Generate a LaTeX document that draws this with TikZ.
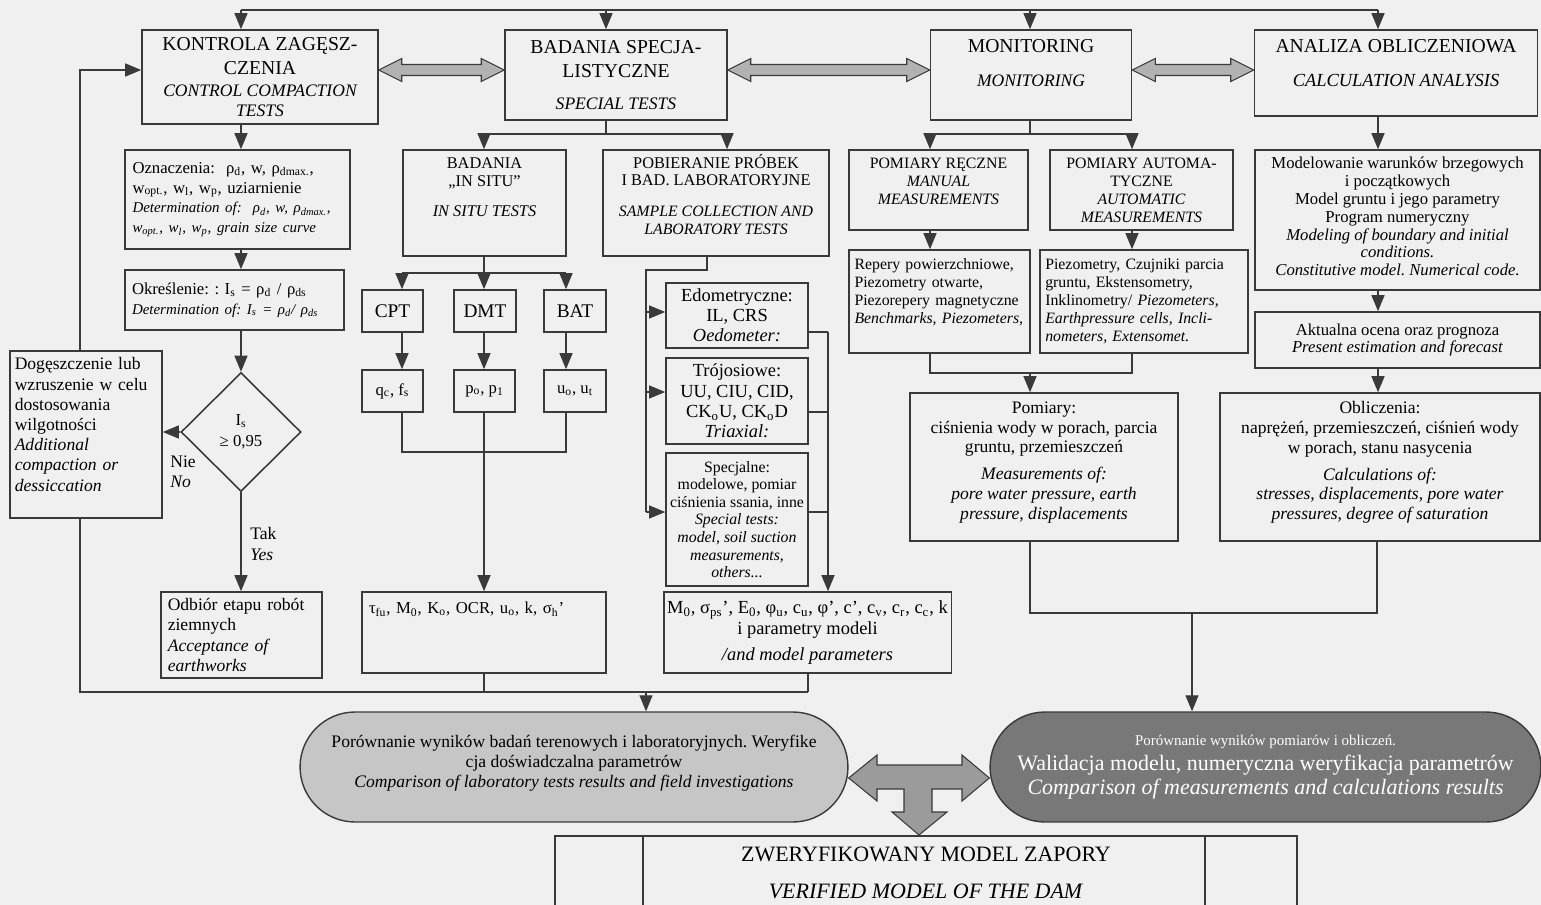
\documentclass[tikz,border=0pt]{standalone}
\usepackage{fontspec}
\setmainfont{Liberation Serif}
\usetikzlibrary{shapes.geometric,arrows.meta,calc}

\definecolor{bgc}{RGB}{240,240,240}
\definecolor{lc}{RGB}{58,58,58}
\definecolor{fatc}{RGB}{178,178,178}
\definecolor{fatd}{RGB}{155,155,155}
\definecolor{ovl}{RGB}{198,198,198}
\definecolor{ovd}{RGB}{120,120,120}

\newcommand{\sbs}[1]{\textsubscript{#1}}
\newcommand{\fsz}[2]{\fontsize{#1}{#2}\selectfont}
\frenchspacing

\begin{document}
\begin{tikzpicture}[x=0.02cm, y=-0.02cm,
    box/.style={rectangle, draw=lc, line width=0.9pt, inner sep=2pt, align=center},
    lbox/.style={box, align=left},
    dia/.style={diamond, draw=lc, line width=0.9pt, aspect=1, inner sep=0pt, align=center},
    oval/.style={rectangle, draw=lc, line width=0.8pt, rounded corners=1.1cm, align=center},
    lbl/.style={align=left, inner sep=0pt, anchor=west},
    ln/.style={draw=lc, line width=0.7pt},
    arr/.style={draw=lc, line width=0.7pt, -{Triangle[length=0.32cm,width=0.26cm]}},
    fat/.style={draw=lc, fill=fatc, line width=0.6pt,
      to path={let \p1=(\tikztostart), \p2=(\tikztotarget) in
        (\p1) -- (\x1+0.46cm,\y1+0.23cm) -- (\x1+0.46cm,\y1+0.11cm) -- (\x2-0.46cm,\y1+0.11cm)
        -- (\x2-0.46cm,\y1+0.23cm) -- (\x2,\y1) -- (\x2-0.46cm,\y1-0.23cm) -- (\x2-0.46cm,\y1-0.11cm)
        -- (\x1+0.46cm,\y1-0.11cm) -- (\x1+0.46cm,\y1-0.23cm) -- cycle}}]
    \useasboundingbox (0,0) rectangle (1541,905);
    \clip (0,0) rectangle (1541,905);
    \fill[bgc] (0,0) rectangle (1541,905);

    % top row
    \node[box, font=\fsz{11.2}{13.6}, minimum width=4.72cm, minimum height=1.88cm] (K) at (260,77) {KONTROLA ZAGĘSZ-\\CZENIA\\[-1pt]{\fsz{10}{11.9}\itshape CONTROL COMPACTION}\\[-2.5pt]{\fsz{10}{11.9}\itshape TESTS}};
    \node[box, font=\fsz{11.2}{13.6}, minimum width=4.44cm, minimum height=1.8cm] (B) at (616,75) {BADANIA SPECJA-\\LISTYCZNE\\[5pt]{\fsz{10}{12}\itshape SPECIAL TESTS}};
    \node[box, font=\fsz{11.2}{13.6}, minimum width=4.02cm, minimum height=1.8cm] (M) at (1031,75) {MONITORING\\[6pt]{\fsz{10}{12}\itshape MONITORING}\\[0pt]\mbox{}};
    \node[box, font=\fsz{11.2}{13.6}, minimum width=5.66cm, minimum height=1.72cm] (A) at (1396,73) {ANALIZA OBLICZENIOWA\\[6pt]{\fsz{10.5}{12}\itshape CALCULATION ANALYSIS}\\[-2pt]\mbox{}};

    % left column
    \node[lbox, font=\fsz{9.5}{11.3}, text width=4.2cm, minimum width=4.5cm, minimum height=1.98cm] (OZ) at (237.5,199.5) {Oznaczenia:~ ρ\sbs{d}, w, ρ\sbs{dmax.},\\w\sbs{opt.}, w\sbs{l}, w\sbs{p}, uziarnienie\\{\fsz{8.5}{10.4}\itshape Determination of:~ ρ\sbs{d}, w, ρ\sbs{dmax.},}\\{\fsz{8.5}{10.4}\itshape w\sbs{opt.}, w\sbs{l}, w\sbs{p}, grain size curve}};
    \node[lbox, font=\fsz{9.5}{11.3}, text width=4.1cm, minimum width=4.38cm, minimum height=1.2cm] (OKR) at (234.5,300) {Określenie: : I\sbs{s} = ρ\sbs{d} / ρ\sbs{ds}\\{\fsz{8.5}{11}\itshape Determination of: I\sbs{s} = ρ\sbs{d}/ ρ\sbs{ds}}};
    \node[dia, font=\fsz{9.5}{12}, minimum width=2.4cm, minimum height=2.38cm] (D) at (241,432) {I\sbs{s}\\≥ 0,95};
    \node[lbox, font=\fsz{10}{11.5}, text width=2.85cm, minimum width=3.04cm, minimum height=3.34cm] (DG) at (86,434.5) {Dogęszczenie lub\\wzruszenie w celu\\dostosowania\\wilgotności\\\textit{Additional}\\\textit{compaction or}\\\textit{dessiccation}\\\mbox{}};
    \node[lbl, font=\fsz{10}{11.5}] (NIE) at (170,472) {Nie\\\textit{No}};
    \node[lbl, font=\fsz{10}{11.5}] (TAK) at (250,544) {Tak\\\textit{Yes}};
    \node[lbox, font=\fsz{10}{11.6}, text width=2.95cm, minimum width=3.22cm, minimum height=1.72cm] (OD) at (241.5,635) {Odbiór etapu robót\\ziemnych\\\textit{Acceptance of}\\\textit{earthworks}};

    % in situ and laboratory
    \node[box, font=\fsz{9.3}{10.2}, minimum width=3.26cm, minimum height=2.12cm] (IS) at (484.5,203) {BADANIA\\„IN SITU”\\[7pt]\textit{IN SITU TESTS}\\[8pt]\mbox{}};
    \node[box, font=\fsz{9.3}{10.2}, minimum width=4.52cm, minimum height=2.12cm] (PB) at (716,203) {POBIERANIE PRÓBEK\\I BAD. LABORATORYJNE\\[7pt]{\fsz{9}{10.2}\itshape SAMPLE COLLECTION AND}\\{\fsz{9}{10.2}\itshape LABORATORY TESTS}\\\mbox{}};
    \node[box, font=\fsz{11}{13}, minimum width=1.22cm, minimum height=0.84cm] (CPT) at (392.5,311) {CPT};
    \node[box, font=\fsz{11}{13}, minimum width=1.24cm, minimum height=0.84cm] (DMT) at (485,311) {DMT};
    \node[box, font=\fsz{11}{13}, minimum width=1.24cm, minimum height=0.84cm] (BAT) at (575,311) {BAT};
    \node[box, font=\fsz{9.5}{11}, minimum width=1.22cm, minimum height=0.84cm] (QC) at (392.5,391) {q\sbs{c}, f\sbs{s}};
    \node[box, font=\fsz{9.5}{11}, minimum width=1.22cm, minimum height=0.84cm] (PO) at (484.5,391) {p\sbs{o}, p\sbs{1}};
    \node[box, font=\fsz{9.5}{11}, minimum width=1.24cm, minimum height=0.84cm] (UO) at (575,391) {u\sbs{o}, u\sbs{t}};
    \node[lbox, font=\fsz{9.5}{11}, text width=4.6cm, minimum width=4.88cm, minimum height=1.62cm] (TB) at (484,632.5) {τ\sbs{fu}, M\sbs{0}, K\sbs{o}, OCR, u\sbs{o}, k, σ\sbs{h}’\\[17pt]\mbox{}};
    \node[box, font=\fsz{10.5}{11.4}, minimum width=2.84cm, minimum height=1.3cm] (ED) at (737,315.5) {Edometryczne:\\IL, CRS\\\textit{Oedometer:}};
    \node[box, font=\fsz{10.5}{11.5}, minimum width=2.84cm, minimum height=1.72cm] (TR) at (737,401) {Trójosiowe:\\UU, CIU, CID,\\CK\sbs{o}U, CK\sbs{o}D\\\textit{Triaxial:}};
    \node[box, font=\fsz{9}{10}, minimum width=2.84cm, minimum height=2.66cm] (SP) at (737,519.5) {Specjalne:\\modelowe, pomiar\\ciśnienia ssania, inne\\\textit{Special tests:}\\\textit{model, soil suction}\\\textit{measurements,}\\\textit{others...}};
    \node[box, font=\fsz{10.5}{11.9}, minimum width=5.66cm, minimum height=1.62cm] (MB) at (807.5,632.5) {M\sbs{0}, σ\sbs{ps}’, E\sbs{0}, φ\sbs{u}, c\sbs{u}, φ’, c’, c\sbs{v}, c\sbs{r}, c\sbs{c}, k\\i parametry modeli\\[3pt]\textit{/and model parameters}};

    % monitoring
    \node[box, font=\fsz{9}{10.2}, minimum width=3.58cm, minimum height=1.6cm] (PR) at (938.5,190) {POMIARY RĘCZNE\\\textit{MANUAL}\\\textit{MEASUREMENTS}\\\mbox{}};
    \node[box, font=\fsz{9}{10.2}, minimum width=3.66cm, minimum height=1.6cm] (PA) at (1141.5,190) {POMIARY AUTOMA-\\TYCZNE\\\textit{AUTOMATIC}\\\textit{MEASUREMENTS}};
    \node[lbox, font=\fsz{9}{10.2}, text width=3.4cm, minimum width=3.62cm, minimum height=2.06cm] (RP) at (939.5,301.5) {Repery powierzchniowe,\\Piezometry otwarte,\\Piezorepery magnetyczne\\\textit{Benchmarks, Piezometers,}\\[2pt]\mbox{}};
    \node[lbox, font=\fsz{9}{10.2}, text width=3.95cm, minimum width=4.16cm, minimum height=2.06cm] (PZ) at (1144,301.5) {Piezometry, Czujniki parcia\\gruntu, Ekstensometry,\\Inklinometry/ \textit{Piezometers,}\\\textit{Earthpressure cells, Incli-}\\\textit{nometers, Extensomet.}};
    \node[box, font=\fsz{10}{11.3}, minimum width=5.36cm, minimum height=2.96cm] (PM) at (1044,467) {Pomiary:\\ciśnienia wody w porach, parcia\\gruntu, przemieszczeń\\[4pt]\textit{Measurements of:}\\\textit{pore water pressure, earth}\\\textit{pressure, displacements}\\[-4pt]\mbox{}};

    % calculation analysis
    \node[box, font=\fsz{9.5}{10.2}, minimum width=5.7cm, minimum height=2.8cm] (MD) at (1397.5,220) {Modelowanie warunków brzegowych\\i początkowych\\Model gruntu i jego parametry\\Program numeryczny\\\textit{Modeling of boundary and initial}\\\textit{conditions.}\\\textit{Constitutive model. Numerical code.}\\[-6pt]\mbox{}};
    \node[box, font=\fsz{9.5}{10.2}, minimum width=5.7cm, minimum height=1.12cm] (AK) at (1397.5,340) {Aktualna ocena oraz prognoza\\\textit{Present estimation and forecast}};
    \node[box, font=\fsz{10}{11.3}, minimum width=6.4cm, minimum height=2.96cm] (OB) at (1380,467) {Obliczenia:\\naprężeń, przemieszczeń, ciśnień wody\\w porach, stanu nasycenia\\[4pt]\textit{Calculations of:}\\\textit{stresses, displacements, pore water}\\\textit{pressures, degree of saturation}\\[-4pt]\mbox{}};

    % bottom
    \node[oval, fill=ovl, font=\fsz{10}{11.4}, minimum width=10.96cm, minimum height=2.2cm] (LE) at (574,767) {Porównanie wyników badań terenowych i laboratoryjnych. Weryfike\\cja doświadczalna parametrów\\\textit{Comparison of laboratory tests results and field investigations}\\[-5pt]\mbox{}};
    \node[oval, fill=ovd, text=white, font=\fsz{12.5}{13.6}, minimum width=11.02cm, minimum height=2.2cm] (RE) at (1265.5,767) {{\fsz{8.5}{10}Porównanie wyników pomiarów i obliczeń.}\\[1pt]Walidacja modelu, numeryczna weryfikacja parametrów\\\textit{Comparison of measurements and calculations results}};
    \node[box, font=\fsz{12.5}{14}, anchor=north, minimum width=14.84cm, minimum height=1.5cm] (BM) at (926,835) {ZWERYFIKOWANY MODEL ZAPORY\\[7pt]\textit{VERIFIED MODEL OF THE DAM}};
    \draw[ln] (BM.north -| 643,0) -- (BM.south -| 643,0);
    \draw[ln] (BM.north -| 1205,0) -- (BM.south -| 1205,0);

    % top bus
    \draw[ln] (241,10) -- (1378,10);
    \draw[arr] (241,10) -- (241,10 |- K.north);
    \draw[arr] (606,10) -- (606,10 |- B.north);
    \draw[arr] (1030,10) -- (1030,10 |- M.north);
    \draw[arr] (1378,10) -- (1378,10 |- A.north);
    \draw[fat] (K.east |- 0,70) to (B.west |- 0,70);
    \draw[fat] (B.east |- 0,70) to (M.west |- 0,70);
    \draw[fat] (M.east |- 0,70) to (A.west |- 0,70);

    % compaction control
    \draw[arr] (K.south -| 241,0) -- (OZ.north -| 241,0);
    \draw[arr] (OZ.south -| 241,0) -- (OKR.north -| 241,0);
    \draw[arr] (OKR.south -| 241,0) -- (D.north);
    \draw[arr] (D.west) -- (DG.east |- D.west);
    \draw[arr] (D.south) -- (OD.north -| D.south);
    \draw[arr] (DG.north -| 80,0) |- (K.west |- 0,70);
    \draw[ln] (DG.south -| 80,0) -- (80,692) -- (808,692);
    \draw[ln] (TB.south) -- (TB.south |- 0,692);
    \draw[ln] (MB.south -| 808,0) -- (808,692);
    \draw[arr] (646,692) -- (LE.north -| 646,0);

    % special tests
    \draw[ln] (B.south -| 606,0) -- (606,134);
    \draw[ln] (484,134) -- (727,134);
    \draw[arr] (484,134) -- (IS.north -| 484,0);
    \draw[arr] (727,134) -- (PB.north -| 727,0);
    \draw[ln] (IS.south -| 484,0) -- (484,273);
    \draw[ln] (402,273) -- (566,273);
    \draw[arr] (402,273) -- (CPT.north -| 402,0);
    \draw[arr] (484,273) -- (DMT.north -| 484,0);
    \draw[arr] (566,273) -- (BAT.north -| 566,0);
    \draw[arr] (CPT.south -| 402,0) -- (QC.north -| 402,0);
    \draw[arr] (DMT.south -| 484,0) -- (PO.north -| 484,0);
    \draw[arr] (BAT.south -| 566,0) -- (UO.north -| 566,0);
    \draw[ln] (QC.south -| 402,0) -- (402,452) -- (566,452) -- (UO.south -| 566,0);
    \draw[arr] (PO.south -| 484,0) -- (TB.north -| 484,0);
    \draw[ln] (PB.south -| 707,0) -- (707,270) -- (646,270) -- (646,512);
    \draw[arr] (646,312) -- (ED.west |- 0,312);
    \draw[arr] (646,392) -- (TR.west |- 0,392);
    \draw[arr] (646,512) -- (SP.west |- 0,512);
    \draw[ln] (ED.east |- 0,332) -- (828,332);
    \draw[ln] (TR.east |- 0,412) -- (828,412);
    \draw[ln] (SP.east |- 0,512) -- (828,512);
    \draw[arr] (828,332) -- (MB.north -| 828,0);

    % monitoring
    \draw[ln] (M.south -| 1030,0) -- (1030,134);
    \draw[ln] (930,134) -- (1132,134);
    \draw[arr] (930,134) -- (PR.north -| 930,0);
    \draw[arr] (1132,134) -- (PA.north -| 1132,0);
    \draw[arr] (PR.south -| 930,0) -- (RP.north -| 930,0);
    \draw[arr] (PA.south -| 1132,0) -- (PZ.north -| 1132,0);
    \draw[ln] (RP.south -| 930,0) -- (930,373) -- (1132,373) -- (PZ.south -| 1132,0);
    \draw[arr] (1030,373) -- (PM.north -| 1030,0);
    \draw[ln] (PM.south -| 1030,0) -- (1030,613) -- (1377,613) -- (OB.south -| 1377,0);
    \draw[arr] (1192,613) -- (RE.north -| 1192,0);

    % calculation
    \draw[arr] (A.south -| 1378,0) -- (MD.north -| 1378,0);
    \draw[arr] (MD.south -| 1378,0) -- (AK.north -| 1378,0);
    \draw[arr] (AK.south -| 1378,0) -- (OB.north -| 1378,0);

    % verification arrow
    \draw[draw=lc, fill=fatd, line width=0.6pt] (LE.east |- 0,778) -- (877,755) -- (877,765) -- (962,765) -- (962,755)
        -- (RE.west |- 0,778) -- (962,801) -- (962,789) -- (932,789) -- (932,812) -- (947,812)
        -- (BM.north -| 919,0) -- (892,812) -- (904,812) -- (904,789) -- (877,789) -- (877,801) -- cycle;
\end{tikzpicture}
\end{document}
